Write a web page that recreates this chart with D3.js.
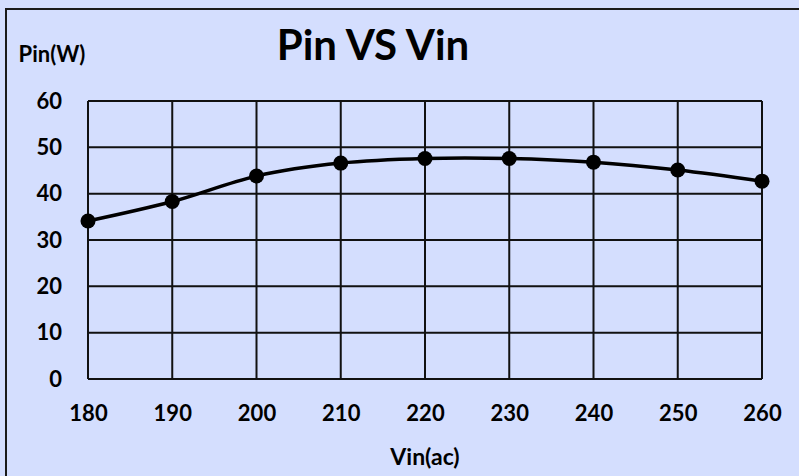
<!DOCTYPE html>
<html><head><meta charset="utf-8">
<script src="https://cdn.jsdelivr.net/npm/d3@7"></script>
<style>html,body{margin:0;padding:0;background:#D4DEFE;overflow:hidden}</style>
</head><body>
<svg id="c" width="799" height="476"></svg>
<script>
const vin = [180, 190, 200, 210, 220, 230, 240, 250, 260];
const pin = [34.1, 38.3, 43.8, 46.6, 47.6, 47.6, 46.8, 45.1, 42.7];
const yTicks = [0, 10, 20, 30, 40, 50, 60];
const title = "Pin VS Vin";
const xTitle = "Vin(ac)";
const yTitle = "Pin(W)";

const svg = d3.select("#c");
const font = "Lato, 'Open Sans', sans-serif";
svg.append("rect").attr("x",0).attr("y",0).attr("width",799).attr("height",476).attr("fill","#D4DEFE");
svg.append("rect").attr("x",6).attr("y",9).attr("width",900).attr("height",600)
  .attr("fill","none").attr("stroke","#1a1a1a").attr("stroke-width",2);

const x = d3.scaleLinear().domain([180,260]).range([88,762]);
const y = d3.scaleLinear().domain([0,60]).range([379,101]);

// grid
const g = svg.append("g");
g.selectAll("line.h").data(yTicks).enter().append("line")
  .attr("x1",x(180)).attr("x2",x(260)).attr("y1",d=>y(d)).attr("y2",d=>y(d))
  .attr("stroke","#111").attr("stroke-width",2);
g.selectAll("line.v").data(vin).enter().append("line")
  .attr("y1",y(0)).attr("y2",y(60)).attr("x1",d=>x(d)).attr("x2",d=>x(d))
  .attr("stroke","#111").attr("stroke-width",2);

// axes via d3 (labels only)
const xa = svg.append("g").attr("transform",`translate(0,${y(0)})`)
  .call(d3.axisBottom(x).tickValues(vin).tickSize(0).tickPadding(26));
xa.select(".domain").remove();
xa.selectAll("text").attr("font-family",font).attr("font-weight","bold").attr("font-size",22).attr("fill","#000");
const ya = svg.append("g").attr("transform",`translate(62,0)`)
  .call(d3.axisLeft(y).tickValues(yTicks).tickSize(0).tickPadding(0));
ya.select(".domain").remove();
ya.selectAll("text").attr("font-family",font).attr("font-weight","bold").attr("font-size",22).attr("fill","#000");

// line
const data = vin.map((v,i)=>({x:v,y:pin[i]}));
svg.append("path").datum(data)
  .attr("d", d3.line().x(d=>x(d.x)).y(d=>y(d.y)).curve(d3.curveCatmullRom))
  .attr("fill","none").attr("stroke","#000").attr("stroke-width",3.5);
svg.selectAll("circle.p").data(data).enter().append("circle")
  .attr("cx",d=>x(d.x)).attr("cy",d=>y(d.y)).attr("r",7.5).attr("fill","#000");

// titles
svg.append("text").attr("x",373).attr("y",60).attr("text-anchor","middle")
  .attr("font-family",font).attr("font-weight","bold").attr("font-size",42).text(title);
svg.append("text").attr("x",425).attr("y",465).attr("text-anchor","middle")
  .attr("font-family",font).attr("font-weight","bold").attr("font-size",23).text(xTitle);
svg.append("text").attr("x",52).attr("y",62).attr("text-anchor","middle")
  .attr("font-family",font).attr("font-weight","bold").attr("font-size",22).text(yTitle);
</script>
</body></html>
